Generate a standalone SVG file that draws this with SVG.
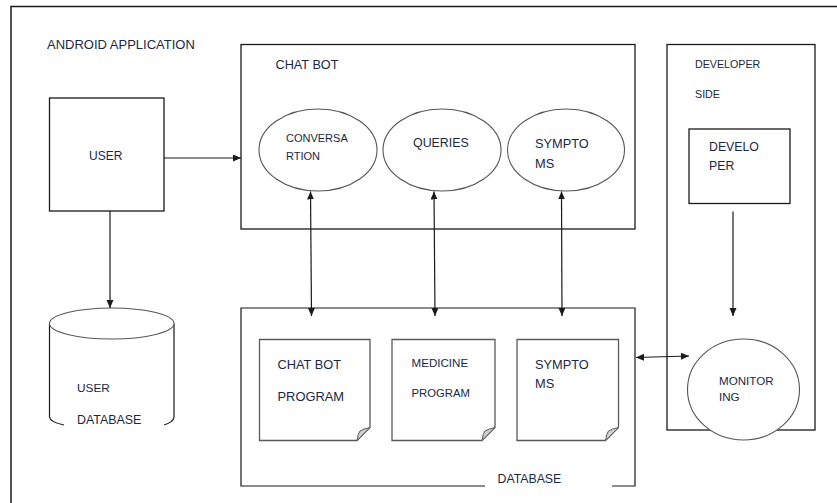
<svg xmlns="http://www.w3.org/2000/svg" width="837" height="503" viewBox="0 0 837 503">
  <style>
    .box { fill: #ffffff; stroke: #1a1a1a; stroke-width: 1.3; }
    .oval { fill: #ffffff; stroke: #555555; stroke-width: 1.1; }
    .doc { fill: #ffffff; stroke: #5a5a5a; stroke-width: 1.3; }
    .fold { fill: #cfcfcf; stroke: #5a5a5a; stroke-width: 1; }
    .edge { fill: none; stroke: #1a1a1a; stroke-width: 1.2; }
    text { font-family: "Liberation Sans", Arial, sans-serif; fill: #1a2846; }
  </style>
  <defs>
    <marker id="arrow" markerWidth="9" markerHeight="8" refX="8" refY="3.5" orient="auto-start-reverse" markerUnits="userSpaceOnUse">
      <path d="M0,0 L8,3.5 L0,7 z" fill="#1a1a1a"/>
    </marker>
  </defs>

  <rect width="837" height="503" fill="#ffffff"/>

  <!-- application frame (open on the right and bottom) -->
  <path d="M11,503 V6.5 H837" fill="none" stroke="#1a1a1a" stroke-width="1.5"/>
  <text x="47" y="49" font-size="13">ANDROID APPLICATION</text>

  <g id="user">
    <rect class="box" x="49.5" y="98" width="114.5" height="113"/>
    <text x="89" y="160" font-size="12">USER</text>
  </g>

  <g id="user-database">
    <path d="M49.5,323.5 V417 Q50,422 64,425" class="edge" stroke="#333"/>
    <path d="M164,425 Q173.5,422 174,417 V323.5" class="edge" stroke="#333"/>
    <ellipse cx="111.75" cy="323.5" rx="62.25" ry="15.5" class="oval" stroke="#333"/>
    <text x="77" y="392" font-size="11.8">USER</text>
    <text x="77" y="424" font-size="12.4">DATABASE</text>
  </g>

  <g id="chat-bot">
    <rect class="box" x="241" y="44.5" width="394" height="184.5"/>
    <text x="275.5" y="69" font-size="12.7">CHAT BOT</text>
  </g>

  <g id="conversation">
    <ellipse class="oval" cx="318" cy="150" rx="59" ry="41"/>
    <text x="286" y="142" font-size="11">CONVERSA</text>
    <text x="286" y="160" font-size="11">RTION</text>
  </g>

  <g id="queries">
    <ellipse class="oval" cx="442" cy="150" rx="59" ry="41"/>
    <text x="413" y="147" font-size="12.4">QUERIES</text>
  </g>

  <g id="symptoms">
    <ellipse class="oval" cx="566" cy="150" rx="58.5" ry="41"/>
    <text x="535" y="148" font-size="12.8">SYMPTO</text>
    <text x="535" y="168" font-size="12.8">MS</text>
  </g>

  <g id="database">
    <path d="M485,486 H241 V308 H635 V486 H612" class="edge" stroke-width="1.3"/>
    <text x="497.5" y="483" font-size="12.3">DATABASE</text>
  </g>

  <g id="chat-bot-program">
    <path class="doc" d="M259.5,339.5 H370 V427.5 L357,440.5 H259.5 Z"/>
    <path class="fold" d="M370,427.5 L357,440.5 Q358,433 360,431 Q363,429 370,427.5 Z"/>
    <text x="277.5" y="369" font-size="12.8">CHAT BOT</text>
    <text x="277.5" y="401" font-size="12.9">PROGRAM</text>
  </g>

  <g id="medicine-program">
    <path class="doc" d="M392,339.5 H495 V427.5 L482,440.5 H392 Z"/>
    <path class="fold" d="M495,427.5 L482,440.5 Q483,433 485,431 Q488,429 495,427.5 Z"/>
    <text x="411.5" y="367" font-size="11.6">MEDICINE</text>
    <text x="411.5" y="397" font-size="11.3">PROGRAM</text>
  </g>

  <g id="symptoms-data">
    <path class="doc" d="M517,339.5 H618.5 V427.5 L605.5,440.5 H517 Z"/>
    <path class="fold" d="M618.5,427.5 L605.5,440.5 Q606.5,433 608.5,431 Q611.5,429 618.5,427.5 Z"/>
    <text x="535" y="369" font-size="12.8">SYMPTO</text>
    <text x="535" y="388" font-size="12.8">MS</text>
  </g>

  <g id="developer-side">
    <rect class="box" x="667" y="44.5" width="148" height="385.5"/>
    <text x="695" y="67.5" font-size="10.7">DEVELOPER</text>
    <text x="695" y="97.5" font-size="10.7">SIDE</text>
  </g>

  <g id="developer">
    <rect class="box" x="689" y="129" width="101" height="74.5" stroke="#333"/>
    <text x="709" y="151" font-size="12.3">DEVELO</text>
    <text x="709" y="170" font-size="12.3">PER</text>
  </g>

  <g id="monitoring">
    <ellipse class="oval" cx="743.5" cy="389.5" rx="56" ry="50.5"/>
    <text x="719" y="385" font-size="11.6">MONITOR</text>
    <text x="719" y="401" font-size="11.6">ING</text>
  </g>

  <g id="connectors">
    <line class="edge" x1="164" y1="158" x2="241" y2="158" marker-end="url(#arrow)"/>
    <line class="edge" x1="110" y1="211" x2="110" y2="308" marker-end="url(#arrow)"/>
    <line class="edge" x1="310.5" y1="191.5" x2="311.5" y2="316" marker-start="url(#arrow)" marker-end="url(#arrow)"/>
    <line class="edge" x1="434" y1="191.5" x2="435" y2="316" marker-start="url(#arrow)" marker-end="url(#arrow)"/>
    <line class="edge" x1="561.5" y1="191.5" x2="562" y2="316" marker-start="url(#arrow)" marker-end="url(#arrow)"/>
    <line class="edge" x1="636" y1="357.5" x2="689" y2="356" marker-start="url(#arrow)" marker-end="url(#arrow)"/>
    <line class="edge" x1="733" y1="211.5" x2="733" y2="316" marker-end="url(#arrow)"/>
  </g>
</svg>
